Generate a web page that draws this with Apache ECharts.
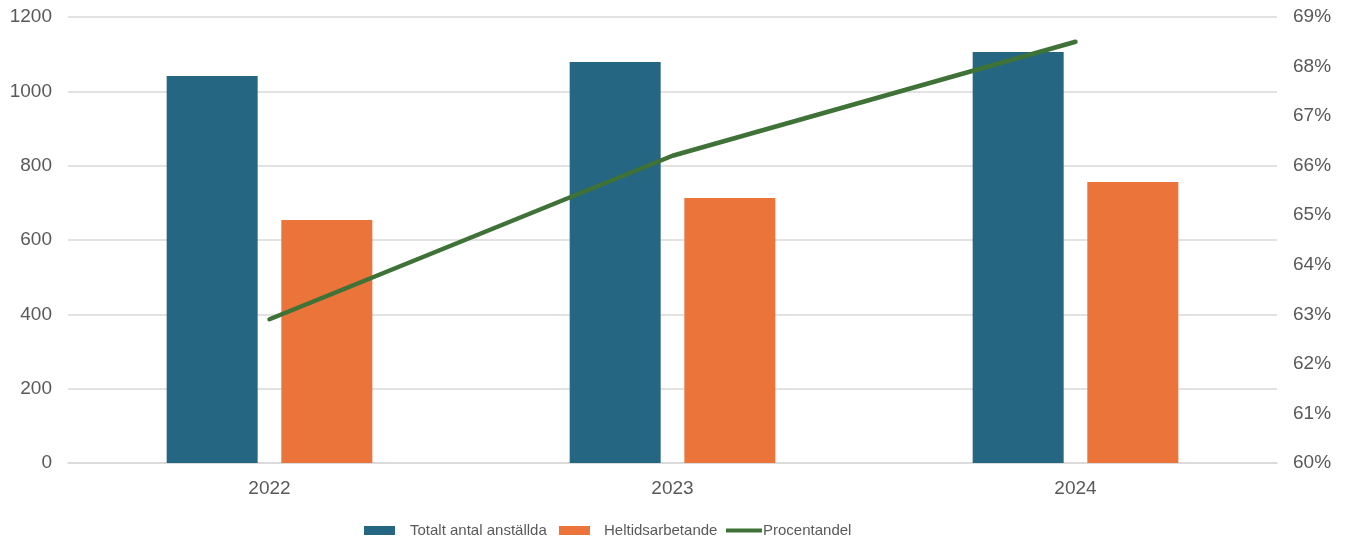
<!DOCTYPE html>
<html>
<head>
<meta charset="utf-8">
<script src="https://cdn.jsdelivr.net/npm/echarts@6/dist/echarts.min.js"></script>
<style>html,body{margin:0;padding:0;background:#fff}#c{width:1349px;height:542px}</style>
</head>
<body>
<div id="c"></div>
<script>
const categories = ['2022', '2023', '2024'];
const totalt = [1041, 1079, 1106];
const heltid = [654, 713, 756];
const procent = [62.9, 66.2, 68.5];
const leftTicks = [0, 200, 400, 600, 800, 1000, 1200];

const chart = echarts.init(document.getElementById('c'));
const txt = '#595959';
const font = 'Liberation Sans, Arial, sans-serif';
const legendText = { color: txt, fontSize: 15, fontFamily: font };
chart.setOption({
  animation: false,
  textStyle: { fontFamily: font },
  grid: { left: 68, right: 72, top: 17, bottom: 79 },
  legend: [{
    data: [{ name: 'Totalt antal anställda', icon: 'rect' }],
    left: 364, top: 523, padding: 0, itemWidth: 31, itemHeight: 9,
    textStyle: Object.assign({ padding: [0, 0, 0, 10] }, legendText)
  }, {
    data: [{ name: 'Heltidsarbetande', icon: 'rect' }],
    left: 559, top: 523, padding: 0, itemWidth: 31, itemHeight: 9,
    textStyle: Object.assign({ padding: [0, 0, 0, 9] }, legendText)
  }, {
    data: [{ name: 'Procentandel', icon: 'rect' }],
    left: 726, top: 523, padding: 0, itemWidth: 36, itemHeight: 4,
    textStyle: Object.assign({ padding: [0, 0, 0, -4] }, legendText)
  }],
  xAxis: {
    type: 'category', data: categories,
    axisLine: { lineStyle: { color: '#d9d9d9', width: 1.5 } },
    axisTick: { show: false },
    axisLabel: { color: txt, fontSize: 19, margin: 16, fontFamily: font }
  },
  yAxis: [{
    type: 'value', min: leftTicks[0], max: leftTicks[leftTicks.length - 1], interval: 200,
    axisLabel: { color: txt, fontSize: 19, margin: 16, fontFamily: font, formatter: v => String(v) },
    splitLine: { lineStyle: { color: '#d9d9d9', width: 1.5 } },
    axisLine: { show: false }, axisTick: { show: false }
  }, {
    type: 'value', min: 60, max: 69, interval: 1,
    axisLabel: { color: txt, fontSize: 19, margin: 16, fontFamily: font, formatter: v => v + '%' },
    splitLine: { show: false },
    axisLine: { show: false }, axisTick: { show: false }
  }],
  series: [{
    name: 'Totalt antal anställda', type: 'bar', data: totalt,
    barWidth: 91, barGap: '26%',
    itemStyle: { color: '#256682' }
  }, {
    name: 'Heltidsarbetande', type: 'bar', data: heltid,
    barWidth: 91,
    itemStyle: { color: '#eb743a' }
  }, {
    name: 'Procentandel', type: 'line', yAxisIndex: 1, data: procent,
    symbol: 'none',
    lineStyle: { color: '#3e7237', width: 4.5, cap: 'round' },
    itemStyle: { color: '#3e7237' }
  }]
});
</script>
</body>
</html>
